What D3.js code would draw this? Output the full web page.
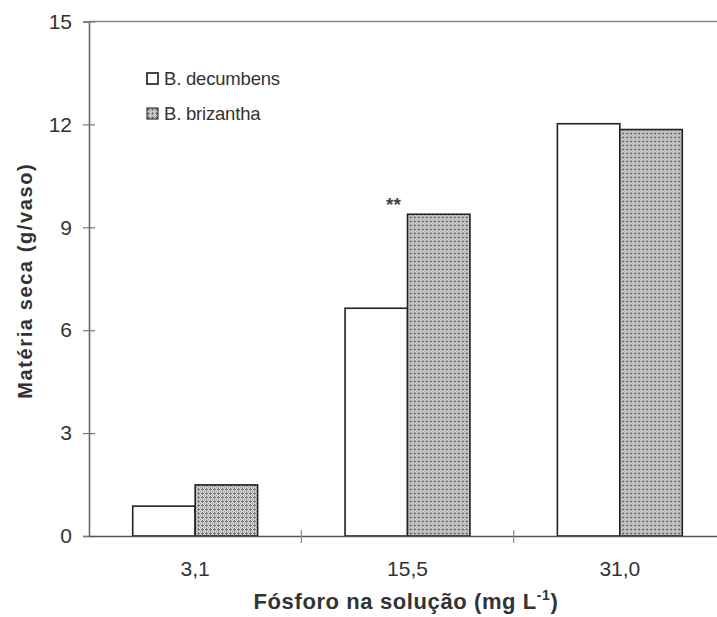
<!DOCTYPE html>
<html>
<head>
<meta charset="utf-8">
<script src="https://cdn.jsdelivr.net/npm/d3@7"></script>
<style>
  html, body { margin: 0; padding: 0; background: #fff; }
  svg text { font-family: "Liberation Sans", Arial, sans-serif; fill: #333; }
</style>
</head>
<body>
<svg id="chart" width="717" height="617"></svg>
<script>
// Phosphorus concentrations in solution (mg L-1)
const categories = ["3,1", "15,5", "31,0"];
// Dry matter per pot (g/vaso)
const decumbens = [0.87, 6.64, 12.02];
const brizantha = [1.49, 9.38, 11.85];
const seriesNames = ["B. decumbens", "B. brizantha"];
const yTicks = [0, 3, 6, 9, 12, 15];
// significance markers above the taller bar of each group
const significance = ["", "**", ""];

const svg = d3.select("#chart");
const margin = { left: 89, right: -9, top: 21.5, bottom: 81 };
const W = 717, H = 617;

const x = d3.scaleBand()
  .domain(categories)
  .range([margin.left, W - margin.right])
  .paddingInner(0).paddingOuter(0);

const xSub = d3.scaleBand()
  .domain(seriesNames)
  .range([0, x.bandwidth()])
  .paddingOuter(0.7);

const y = d3.scaleLinear().domain([0, 15]).range([H - margin.bottom, margin.top]);

// dotted gray fill for the second series
const defs = svg.append("defs");
const pat = defs.append("pattern")
  .attr("id", "dots").attr("patternUnits", "userSpaceOnUse")
  .attr("width", 4).attr("height", 4);
pat.append("rect").attr("width", 4).attr("height", 4).attr("fill", "#cfcfcf");
pat.append("rect").attr("x", 1).attr("y", 0).attr("width", 1).attr("height", 3).attr("fill", "#7a7a7a");
pat.append("rect").attr("x", 0).attr("y", 1).attr("width", 3).attr("height", 1).attr("fill", "#7a7a7a");
pat.append("rect").attr("x", 3).attr("y", 3).attr("width", 1).attr("height", 1).attr("fill", "#9a9a9a");

// top frame line
svg.append("line")
  .attr("x1", margin.left).attr("x2", W)
  .attr("y1", y(15)).attr("y2", y(15))
  .attr("stroke", "#8a8a8a").attr("stroke-width", 1.3);

// bars
const data = categories.map((c, i) => ({ cat: c, vals: [decumbens[i], brizantha[i]] }));
const fills = ["#ffffff", "url(#dots)"];
const groups = svg.append("g").selectAll("g").data(data).join("g")
  .attr("transform", d => `translate(${x(d.cat)},0)`);
groups.selectAll("rect")
  .data(d => d.vals.map((v, j) => ({ v, s: seriesNames[j], j })))
  .join("rect")
  .attr("x", d => xSub(d.s))
  .attr("width", xSub.bandwidth())
  .attr("y", d => y(d.v))
  .attr("height", d => y(0) - y(d.v))
  .attr("fill", d => fills[d.j])
  .attr("stroke", "#222")
  .attr("stroke-width", 1.6);

// significance markers
svg.append("g").selectAll("text").data(data.map((d, i) => ({ d, s: significance[i] })))
  .join("text")
  .attr("x", d => x(d.d.cat) + x.bandwidth() / 2 - 14)
  .attr("y", d => y(d3.max(d.d.vals)) - 3)
  .attr("text-anchor", "middle")
  .attr("font-size", 19).attr("font-weight", "bold")
  .style("fill", "#444")
  .text(d => d.s);

const tickFont = "'Liberation Sans', Arial, sans-serif";

// y axis
const yAxis = d3.axisLeft(y).tickValues(yTicks).tickSize(6).tickPadding(11);
const gy = svg.append("g").attr("transform", `translate(${margin.left},0)`).call(yAxis);
gy.select(".domain").attr("stroke", "#666").attr("stroke-width", 1.6);
gy.selectAll(".tick line").attr("stroke", "#777").attr("x2", -6).attr("x1", 6).attr("stroke-width", 1.2);
gy.selectAll(".tick text").attr("font-size", 21).style("font-family", tickFont).style("fill", "#333");

// x axis
const xAxis = d3.axisBottom(x).tickSize(0).tickPadding(25);
const gx = svg.append("g").attr("transform", `translate(0,${y(0)})`).call(xAxis);
gx.select(".domain").attr("stroke", "#555").attr("stroke-width", 1.6);
gx.selectAll(".tick text").attr("font-size", 21).style("font-family", tickFont).style("fill", "#333");
// category separators
svg.append("g").selectAll("line").data(categories.slice(1))
  .join("line")
  .attr("x1", d => x(d)).attr("x2", d => x(d))
  .attr("y1", y(0) - 6).attr("y2", y(0) + 7)
  .attr("stroke", "#888").attr("stroke-width", 1.2);

// axis titles
svg.append("text")
  .attr("transform", `translate(32,${(y(0) + y(15)) / 2 + 2}) rotate(-90)`)
  .attr("text-anchor", "middle")
  .attr("font-size", 20).attr("font-weight", "bold")
  .attr("letter-spacing", 1.6)
  .text("Matéria seca (g/vaso)");

const xt = svg.append("text")
  .attr("x", 406).attr("y", 609)
  .attr("text-anchor", "middle")
  .attr("font-size", 22).attr("font-weight", "bold")
  .attr("letter-spacing", 0.6);
xt.append("tspan").text("Fósforo na solução (mg L");
xt.append("tspan").attr("dy", -9).attr("font-size", 14).text("-1");
xt.append("tspan").attr("dy", 9).text(")");

// legend
const legend = svg.append("g").attr("transform", "translate(147,73)");
seriesNames.forEach((name, i) => {
  const g = legend.append("g").attr("transform", `translate(0,${i * 35})`);
  g.append("rect").attr("x", 0).attr("y", 0).attr("width", 11).attr("height", 11)
    .attr("fill", fills[i]).attr("stroke", "#333").attr("stroke-width", i === 0 ? 1.8 : 1.2);
  g.append("text").attr("x", 17).attr("y", 11.5)
    .attr("font-size", 18.5).attr("letter-spacing", -0.2).style("fill", "#333").text(name);
});
</script>
</body>
</html>
